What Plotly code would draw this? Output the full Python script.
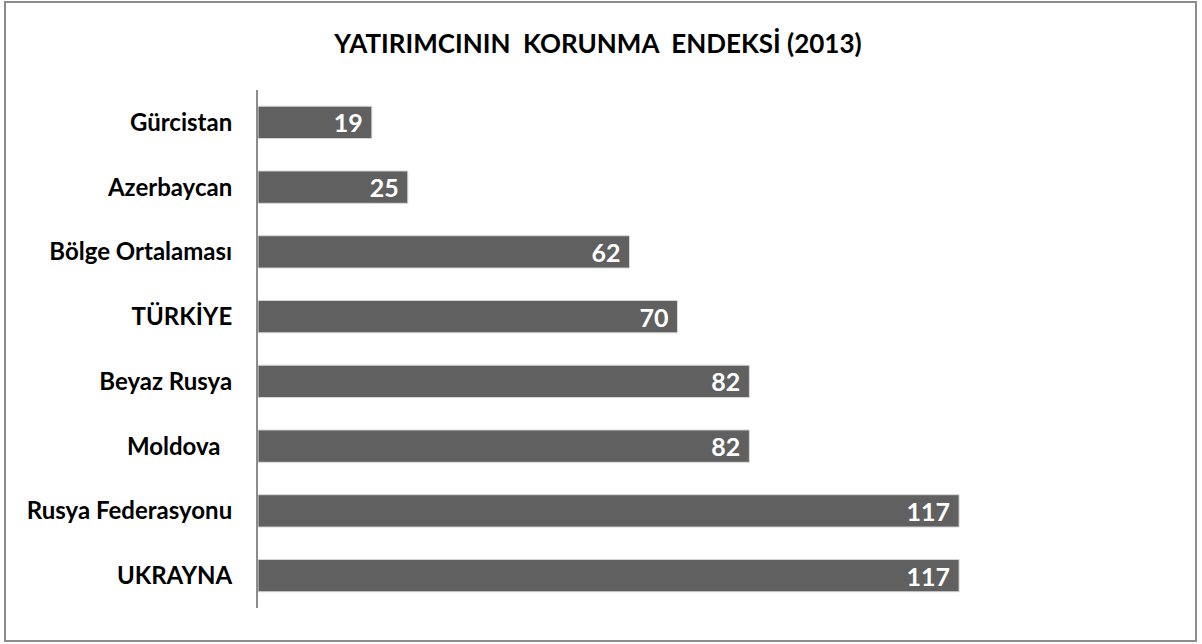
import plotly.graph_objects as go

countries = ["Gürcistan", "Azerbaycan", "Bölge Ortalaması", "TÜRKİYE",
             "Beyaz Rusya", "Moldova\u00a0\u00a0", "Rusya Federasyonu", "UKRAYNA"]
scores = [19, 25, 62, 70, 82, 82, 117, 117]

W, H = 1202, 644
L, R, T, B = 258, 165, 90, 36
pw, ph = W - L - R, H - T - B

fig = go.Figure()
fig.add_trace(go.Bar(
    x=scores, y=countries, orientation="h",
    marker=dict(color="#606060", line=dict(color="#d9d9d9", width=1)),
    width=0.5,
    texttemplate="%{x}\u00a0", textposition="inside", textangle=0,
    insidetextanchor="end", constraintext="none",
    textfont=dict(color="white", size=25, family="Lato", weight="bold"),
))

fig.update_yaxes(autorange="reversed", showline=True, linecolor="#8c8c8c", linewidth=2,
                 ticks="", showgrid=False, ticklabelstandoff=19,
                 tickfont=dict(size=24, family="Lato", color="black", weight="bold"))
fig.update_xaxes(range=[0, 130], visible=False, showgrid=False)

# frame around the whole chart
fig.add_shape(type="rect", xref="paper", yref="paper",
              x0=(5 - L) / pw, x1=(1196 - L) / pw,
              y0=(T + ph - 641) / ph, y1=(T + ph - 2) / ph,
              line=dict(color="#8c8c8c", width=2))

fig.update_layout(
    width=W, height=H,
    margin=dict(l=L, r=R, t=T, b=B),
    plot_bgcolor="white", paper_bgcolor="white",
    title=dict(text="YATIRIMCININ\u00a0 KORUNMA\u00a0 ENDEKSİ (2013)",
               x=(598) / W, xanchor="center", y=1 - 44 / H, yanchor="middle",
               font=dict(size=26, family="Lato", color="black", weight="bold")),
    showlegend=False,
    bargap=0.5,
)

fig.write_html("out.html", config={"displayModeBar": False},
               post_script="document.body.style.margin='0';")
